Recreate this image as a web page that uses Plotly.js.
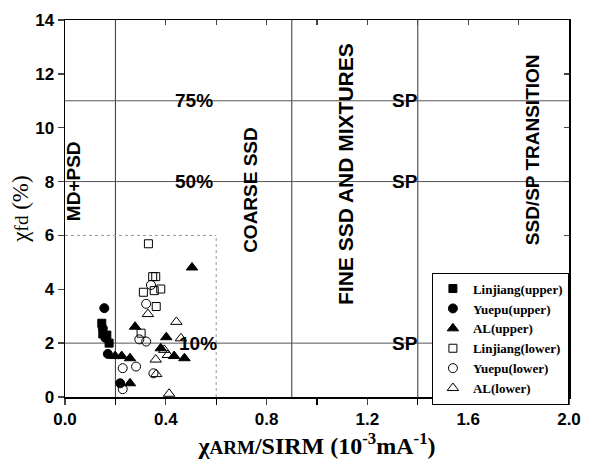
<!DOCTYPE html>
<html>
<head>
<meta charset="utf-8">
<script src="https://cdn.plot.ly/plotly-3.0.1.min.js"></script>
<style>html,body{margin:0;padding:0;background:#fff}#chart{width:590px;height:462px}</style>
</head>
<body>
<div id="chart"></div>
<script>
// ---- data ----
var linjiangUpperX = [0.146, 0.150, 0.175, 0.166];
var linjiangUpperY = [2.74, 2.34, 2.00, 2.30];
var yuepuUpperX = [0.156, 0.150, 0.160, 0.170, 0.219];
var yuepuUpperY = [3.30, 2.55, 2.20, 1.60, 0.51];
var alUpperX = [0.504, 0.278, 0.402, 0.380, 0.433, 0.474, 0.199, 0.225, 0.258, 0.258];
var alUpperY = [4.81, 2.61, 2.22, 1.81, 1.52, 1.44, 1.52, 1.52, 1.44, 0.51];
var linjiangLowerX = [0.331, 0.348, 0.360, 0.311, 0.354, 0.380, 0.362, 0.302];
var linjiangLowerY = [5.69, 4.47, 4.47, 3.89, 3.95, 4.01, 3.36, 2.37];
var yuepuLowerX = [0.341, 0.322, 0.295, 0.322, 0.229, 0.282, 0.351, 0.229];
var yuepuLowerY = [4.16, 3.46, 2.14, 2.06, 1.07, 1.13, 0.88, 0.29];
var alLowerX = [0.329, 0.442, 0.460, 0.394, 0.408, 0.360, 0.362, 0.413];
var alLowerY = [3.08, 2.79, 2.18, 1.75, 1.56, 1.39, 0.85, 0.12];

var seriesNames = ['Linjiang(upper)', 'Yuepu(upper)', 'AL(upper)', 'Linjiang(lower)', 'Yuepu(lower)', 'AL(lower)'];

// domain boundaries (Day-plot style regions)
var regionBoundsX = [0.2, 0.9, 1.4];
var pctLevelsY = [2, 8, 11];
var pctLabels = ['10%', '50%', '75%'];
var pctLabelX = [0.528, 0.51, 0.51];
var spLabelX = 1.348;
var boxX = 0.6, boxY = 6;
var regionLabels = ['MD+PSD', 'COARSE SSD', 'FINE SSD AND MIXTURES', 'SSD/SP TRANSITION'];
var regionLabelX = [0.034, 0.735, 1.113, 1.853];
var regionLabelY = [8.0, 7.7, 8.3, 9.2];
var regionLabelSize = [19, 19, 21, 19];

var xRange = [0, 2], yRange = [0, 14];

// ---- traces ----
function tr(name, x, y, symbol, size) {
  return {type: 'scatter', mode: 'markers', name: name, x: x, y: y,
    marker: {symbol: symbol, size: size, color: '#000', line: {color: '#000', width: 1}}};
}
var traces = [
  tr(seriesNames[0], linjiangUpperX, linjiangUpperY, 'square', 8),
  tr(seriesNames[1], yuepuUpperX, yuepuUpperY, 'circle', 9),
  tr(seriesNames[2], alUpperX, alUpperY, 'triangle-up', 10),
  tr(seriesNames[3], linjiangLowerX, linjiangLowerY, 'square-open', 8),
  tr(seriesNames[4], yuepuLowerX, yuepuLowerY, 'circle-open', 9),
  tr(seriesNames[5], alLowerX, alLowerY, 'triangle-up-open', 10),
  {type: 'scatter', x: [], y: [], xaxis: 'x2', yaxis: 'y2', showlegend: false, hoverinfo: 'skip'}
];

// ---- shapes built from boundaries ----
var shapes = [];
regionBoundsX.forEach(function (bx) {
  shapes.push({type: 'line', xref: 'x', yref: 'y', x0: bx, x1: bx, y0: yRange[0], y1: yRange[1],
    line: {color: '#333', width: 1}, layer: 'below'});
});
pctLevelsY.forEach(function (ly) {
  shapes.push({type: 'line', xref: 'x', yref: 'y', x0: xRange[0], x1: xRange[1], y0: ly, y1: ly,
    line: {color: '#555', width: 1}, layer: 'below'});
});
shapes.push({type: 'line', xref: 'x', yref: 'y', x0: boxX, x1: boxX, y0: 0, y1: boxY,
  line: {color: '#999', width: 1, dash: 'dot'}, layer: 'below'});
shapes.push({type: 'line', xref: 'x', yref: 'y', x0: 0, x1: boxX, y0: boxY, y1: boxY,
  line: {color: '#999', width: 1, dash: 'dot'}, layer: 'below'});

// ---- annotations ----
var sans = 'Liberation Sans, Arial, sans-serif';
var serif = 'Liberation Serif, Times New Roman, serif';
var annotations = [];
pctLevelsY.forEach(function (ly, i) {
  annotations.push({xref: 'x', yref: 'y', x: pctLabelX[i], y: ly, text: pctLabels[i], showarrow: false,
    font: {family: sans, size: 19, weight: 700, color: '#000'}});
  annotations.push({xref: 'x', yref: 'y', x: spLabelX, y: ly, text: 'SP', showarrow: false,
    font: {family: sans, size: 19, weight: 700, color: '#000'}});
});
regionLabels.forEach(function (t, i) {
  annotations.push({xref: 'x', yref: 'y', x: regionLabelX[i], y: regionLabelY[i], text: t, showarrow: false,
    textangle: -90, font: {family: sans, size: regionLabelSize[i], weight: 700, color: '#000'}});
});

var layout = {
  width: 590, height: 462,
  margin: {l: 65, r: 21, t: 20, b: 65},
  paper_bgcolor: '#fff', plot_bgcolor: '#fff',
  showlegend: true,
  xaxis: {range: xRange, dtick: 0.4, tick0: 0, tickformat: '.1f', ticks: 'outside', ticklen: 6, tickwidth: 1.3,
    minor: {dtick: 0.2, tick0: 0, ticks: 'outside', ticklen: 6, tickwidth: 1.3, tickcolor: '#000'},
    showline: true, linecolor: '#000', linewidth: 1.5, mirror: true, showgrid: false, zeroline: false,
    tickfont: {family: sans, size: 17, weight: 700, color: '#000'},
    title: {text: '<b>χ<span style="font-size:19px">ARM</span>/SIRM (10<sup style="font-size:15px">-3</sup>mA<sup style="font-size:15px">-1</sup>)</b>', standoff: 6,
      font: {family: serif, size: 24, color: '#000'}}},
  yaxis: {range: yRange, dtick: 2, tick0: 0, ticks: 'outside', ticklen: 6, tickwidth: 1.3,
    showline: true, linecolor: '#000', linewidth: 1.5, mirror: true, showgrid: false, zeroline: false,
    tickfont: {family: sans, size: 17, weight: 700, color: '#000'},
    title: {text: 'χ<span style="font-size:19px">fd</span> (%)', standoff: 0,
      font: {family: serif, size: 23, color: '#000'}}},
  xaxis2: {overlaying: 'x', side: 'top', matches: 'x', range: xRange, dtick: 0.2, tick0: 0, ticks: 'inside',
    ticklen: 5, tickwidth: 1.3, showticklabels: false, showgrid: false, zeroline: false, showline: false},
  yaxis2: {overlaying: 'y', side: 'right', matches: 'y', range: yRange, dtick: 2, tick0: 0, ticks: 'inside',
    ticklen: 5, tickwidth: 1.3, showticklabels: false, showgrid: false, zeroline: false, showline: false},
  legend: {x: 0.728, y: 0.33, xanchor: 'left', yanchor: 'top', bgcolor: '#fff', bordercolor: '#000', borderwidth: 1,
    font: {family: serif, size: 13, weight: 700, color: '#000'},
    tracegroupgap: 0, itemwidth: 30},
  shapes: shapes,
  annotations: annotations
};

Plotly.newPlot('chart', traces, layout, {staticPlot: true, displayModeBar: false});
</script>
</body>
</html>
